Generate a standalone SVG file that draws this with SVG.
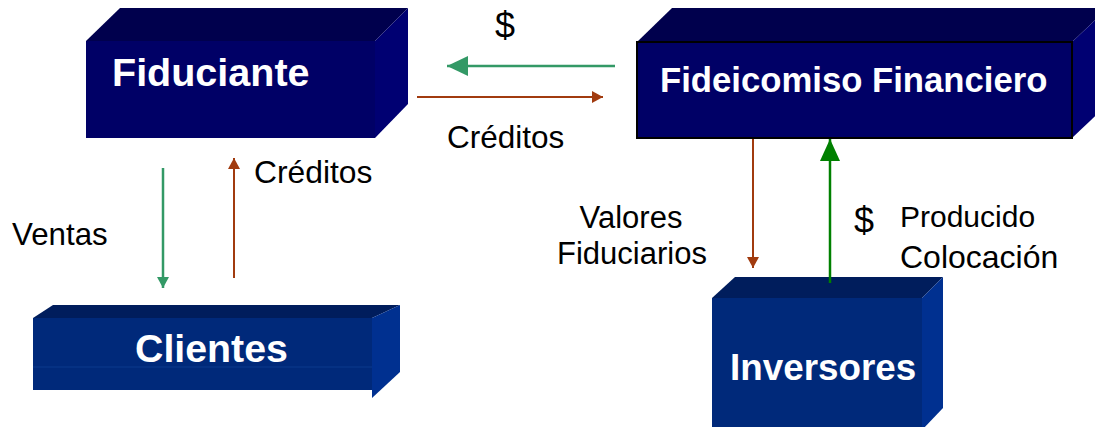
<svg xmlns="http://www.w3.org/2000/svg" width="1095" height="427" viewBox="0 0 1095 427">
<style>
.lbl{font-family:"Liberation Sans",Arial,sans-serif;fill:#000;}
.ttl{font-family:"Liberation Sans",Arial,sans-serif;font-weight:bold;fill:#fff;}
.navyF{fill:#000066;}
.navyT{fill:#00004d;}
.navyR{fill:#000072;}
.blueF{fill:#00297a;}
.blueT{fill:#001d5c;}
.blueR{fill:#003090;}
.cg{stroke:#339966;stroke-width:2.5;fill:none;}
.cgd{stroke:#008000;stroke-width:2.5;fill:none;}
.cb{stroke:#a13b0f;stroke-width:2;fill:none;}
</style>
<defs>
<marker id="hGreenBig" markerUnits="userSpaceOnUse" markerWidth="22" markerHeight="20" refX="21" refY="10" orient="auto"><path d="M0,0 L21,10 L0,20 z" fill="#339966"/></marker>
<marker id="hGreenDark" markerUnits="userSpaceOnUse" markerWidth="22" markerHeight="20" refX="22" refY="10" orient="auto"><path d="M0,0 L22,10 L0,20 z" fill="#008000"/></marker>
<marker id="hGreenSmall" markerUnits="userSpaceOnUse" markerWidth="12" markerHeight="12" refX="11" refY="6" orient="auto"><path d="M0,0 L11,6 L0,12 z" fill="#339966"/></marker>
<marker id="hBrown" markerUnits="userSpaceOnUse" markerWidth="12" markerHeight="12" refX="11" refY="6" orient="auto"><path d="M0,0 L11,6 L0,12 z" fill="#a13b0f"/></marker>
</defs>

<g id="fiduciante">
<polygon class="navyT" points="86,41 120,8 408,8 375,41"/>
<polygon class="navyR" points="375,41 408,8 408,104 375,138"/>
<rect class="navyF" x="86" y="41" width="289" height="97"/>
<text class="ttl" x="112" y="86" font-size="39.5">Fiduciante</text>
</g>

<g id="fideicomiso">
<polygon class="navyT" points="637,42 672,8 1108,8 1072,42"/>
<polygon class="navyR" points="1072,42 1108,8 1108,104 1072,138"/>
<rect class="navyF" x="637" y="42" width="435" height="96" stroke="#000" stroke-width="2"/>
<text class="ttl" x="660" y="92" font-size="34.7">Fideicomiso Financiero</text>
</g>

<g id="clientes">
<polygon class="blueT" points="33,318 53,305 400,305 372,318"/>
<polygon class="blueR" points="372,318 400,305 400,372 372,398"/>
<rect class="blueF" x="33" y="318" width="339" height="72"/>
<line x1="33" y1="367" x2="372" y2="367" stroke="#0b3a8c" stroke-width="1"/>
<text class="ttl" x="135" y="362" font-size="39.3">Clientes</text>
</g>

<g id="inversores">
<polygon class="blueT" points="712,298 735,277 943,277 922,298"/>
<polygon class="blueR" points="922,298 943,277 943,408 922,430"/>
<rect class="blueF" x="712" y="298" width="210" height="132"/>
<text class="ttl" x="730" y="380" font-size="36.8">Inversores</text>
</g>

<g id="connectors">
<line class="cg" x1="615" y1="66" x2="447" y2="66" marker-end="url(#hGreenBig)"/>
<line class="cb" x1="417" y1="97" x2="603" y2="97" marker-end="url(#hBrown)"/>
<line class="cb" x1="753" y1="139" x2="753" y2="268" marker-end="url(#hBrown)"/>
<line class="cgd" x1="830" y1="283" x2="830" y2="139" marker-end="url(#hGreenDark)"/>
<line class="cg" x1="163" y1="168" x2="163" y2="288" stroke-width="2" marker-end="url(#hGreenSmall)"/>
<line class="cb" x1="234" y1="278" x2="234" y2="158" marker-end="url(#hBrown)"/>
</g>

<g id="labels">
<text class="lbl" x="505" y="38" font-size="36" text-anchor="middle">$</text>
<text class="lbl" x="447" y="148" font-size="31.5">Créditos</text>
<text class="lbl" x="254" y="183" font-size="31.8">Créditos</text>
<text class="lbl" x="12" y="245" font-size="31.3">Ventas</text>
<text class="lbl" x="631" y="228" font-size="31" text-anchor="middle">Valores</text>
<text class="lbl" x="632" y="264" font-size="31" text-anchor="middle">Fiduciarios</text>
<text class="lbl" x="864" y="233" font-size="36" text-anchor="middle">$</text>
<text class="lbl" x="900" y="227" font-size="30">Producido</text>
<text class="lbl" x="900" y="268" font-size="32">Colocación</text>
</g>
</svg>
